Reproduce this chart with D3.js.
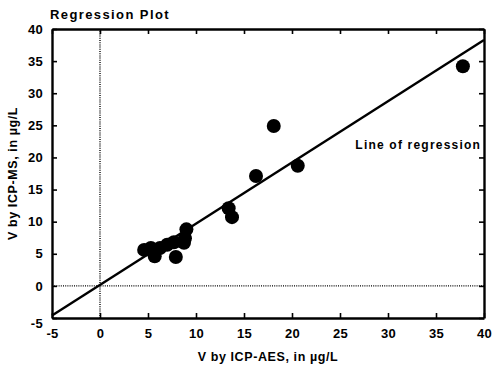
<!DOCTYPE html>
<html>
<head>
<meta charset="utf-8">
<script src="https://cdn.jsdelivr.net/npm/d3@7"></script>
<style>
  body { margin: 0; background: #fff; }
  text { font-family: "Liberation Sans", Arial, sans-serif; fill: #000; }
  .tick text { font-size: 13px; font-weight: bold; letter-spacing: 0.3px; }
  .domain { stroke-width: 2.4px; }
  .tick line { stroke-width: 1.6px; }
</style>
</head>
<body>
<div class="chart"></div>
<script>
// Measured values (V, in µg/L)
var icpAes = [4.6, 5.3, 5.7, 6.25, 7.0, 7.7, 7.9, 8.75, 8.85, 9.0, 13.4, 13.75, 16.25, 18.1, 20.6, 37.8];
var icpMs  = [5.6, 5.9, 4.6, 5.9, 6.4, 6.8, 4.5, 6.7, 7.4, 8.8, 12.1, 10.7, 17.1, 24.9, 18.7, 34.2];

// Regression fit
var slope = 0.953;
var intercept = 0.15;

var tickValues = [-5, 0, 5, 10, 15, 20, 25, 30, 35, 40];

var svgWidth = 493;
var svgHeight = 371;

var chartMargin = { top: 29, right: 9, bottom: 53, left: 52 };
var chartWidth = svgWidth - chartMargin.left - chartMargin.right;
var chartHeight = svgHeight - chartMargin.top - chartMargin.bottom;

var svg = d3.select(".chart")
  .append("svg")
  .attr("width", svgWidth)
  .attr("height", svgHeight);

var chart = svg.append("g")
  .attr("transform", `translate(${chartMargin.left}, ${chartMargin.top})`);

var xScale = d3.scaleLinear().domain([-5, 40]).range([0, chartWidth]);
var yScale = d3.scaleLinear().domain([-5, 40]).range([chartHeight, 0]);

// plain hyphen for negatives, like the original
var fmt = function(d) { return String(d); };

// dotted zero lines
chart.append("line")
  .attr("x1", xScale(0)).attr("x2", xScale(0))
  .attr("y1", 0).attr("y2", chartHeight)
  .attr("stroke", "#000").attr("stroke-width", 1.4)
  .attr("stroke-dasharray", "1,1.2");

chart.append("line")
  .attr("x1", 0).attr("x2", chartWidth)
  .attr("y1", yScale(0)).attr("y2", yScale(0))
  .attr("stroke", "#000").attr("stroke-width", 1.4)
  .attr("stroke-dasharray", "1,1.2");

// regression line
var xEnds = xScale.domain();
chart.append("line")
  .attr("x1", xScale(xEnds[0]))
  .attr("y1", yScale(slope * xEnds[0] + intercept))
  .attr("x2", xScale(xEnds[1]))
  .attr("y2", yScale(slope * xEnds[1] + intercept))
  .attr("stroke", "#000")
  .attr("stroke-width", 2.4);

// data points
chart.selectAll("circle")
  .data(icpAes)
  .enter()
  .append("circle")
  .attr("cx", function(d) { return xScale(d); })
  .attr("cy", function(d, i) { return yScale(icpMs[i]); })
  .attr("r", 7)
  .attr("fill", "#000");

// axes, ticks pointing inward
var bottomAxis = d3.axisBottom(xScale).tickValues(tickValues).tickFormat(fmt).tickSizeInner(-5).tickSizeOuter(0).tickPadding(11);
var leftAxis = d3.axisLeft(yScale).tickValues(tickValues).tickFormat(fmt).tickSizeInner(-5).tickSizeOuter(0).tickPadding(9);
var topAxis = d3.axisTop(xScale).tickValues(tickValues).tickSizeInner(-5).tickSizeOuter(0).tickFormat("");
var rightAxis = d3.axisRight(yScale).tickValues(tickValues).tickSizeInner(-5).tickSizeOuter(0).tickFormat("");

chart.append("g")
  .attr("transform", `translate(0, ${chartHeight})`)
  .call(bottomAxis);

chart.append("g")
  .call(leftAxis)
  .selectAll(".tick text")
  .attr("dy", function(d) { return d === -5 ? "0.75em" : "0.32em"; });

chart.append("g")
  .call(topAxis);

chart.append("g")
  .attr("transform", `translate(${chartWidth}, 0)`)
  .call(rightAxis);

svg.selectAll(".domain, .tick line").attr("stroke", "#000");

// title
svg.append("text")
  .attr("x", 50)
  .attr("y", 19)
  .style("font-size", "13px")
  .style("font-weight", "bold")
  .style("letter-spacing", "1.4px")
  .text("Regression Plot");

// annotation
chart.append("text")
  .attr("x", xScale(26.6))
  .attr("y", yScale(21.3))
  .style("font-size", "12px")
  .style("font-weight", "bold")
  .style("letter-spacing", "1.2px")
  .text("Line of regression");

// x-axis label
svg.append("text")
  .attr("x", chartMargin.left + chartWidth / 2)
  .attr("y", 361)
  .attr("text-anchor", "middle")
  .style("font-size", "12.5px")
  .style("font-weight", "bold")
  .style("letter-spacing", "0.6px")
  .text("V by ICP-AES, in µg/L");

// y-axis label
svg.append("text")
  .attr("transform", "rotate(-90)")
  .attr("x", -(chartMargin.top + chartHeight / 2))
  .attr("y", 17)
  .attr("text-anchor", "middle")
  .style("font-size", "12.5px")
  .style("font-weight", "bold")
  .style("letter-spacing", "0.6px")
  .text("V by ICP-MS, in µg/L");
</script>
</body>
</html>
